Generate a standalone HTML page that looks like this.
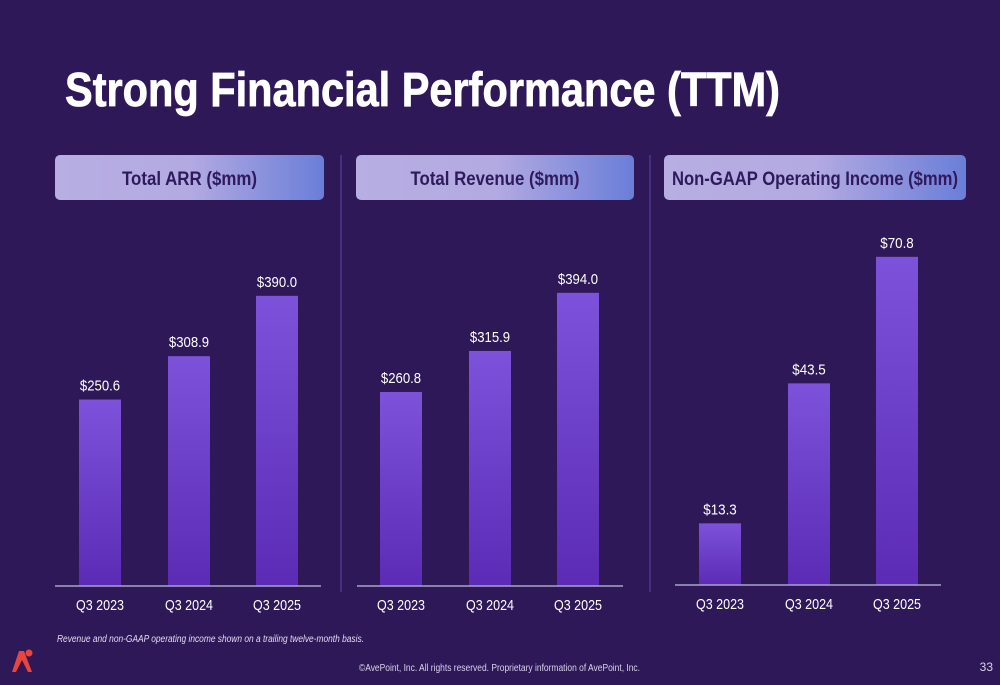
<!DOCTYPE html>
<html><head><meta charset="utf-8"><style>
html,body{margin:0;padding:0;background:#2e1858;}
svg{display:block;font-family:"Liberation Sans",Arial,sans-serif;}
</style></head><body>
<svg id="s" width="1000" height="685" viewBox="0 0 1000 685">
<defs>
<linearGradient id="pill" x1="0" x2="1" y1="0" y2="0">
<stop offset="0" stop-color="#b7aee3"/><stop offset="0.5" stop-color="#b3aae2"/><stop offset="1" stop-color="#6a7ed8"/>
</linearGradient>
<linearGradient id="bar" x1="0" x2="0" y1="0" y2="1">
<stop offset="0" stop-color="#7d52da"/><stop offset="1" stop-color="#5b2bb5"/>
</linearGradient>
</defs>
<rect width="1000" height="685" fill="#2e1858"/>
<text x="65" y="106" font-size="48" font-weight="bold" fill="#fff" stroke="#fff" stroke-width="0.8" textLength="715" lengthAdjust="spacingAndGlyphs">Strong Financial Performance (TTM)</text>
<line x1="341" y1="155" x2="341" y2="592" stroke="#4e3590" stroke-width="1.5"/>
<line x1="650" y1="155" x2="650" y2="592" stroke="#4e3590" stroke-width="1.5"/>
<g id="charts"></g>
<text x="57" y="642" font-size="10" font-style="italic" fill="#e0dcef" textLength="307" lengthAdjust="spacingAndGlyphs">Revenue and non-GAAP operating income shown on a trailing twelve-month basis.</text>
<text x="359" y="671" font-size="10" fill="#d8d3ea" textLength="281" lengthAdjust="spacingAndGlyphs">©AvePoint, Inc. All rights reserved. Proprietary information of AvePoint, Inc.</text>
<text x="993" y="671" font-size="12" fill="#d8d3ea" text-anchor="end">33</text>
<g>
<path d="M12 672 L19 651 L24 651 L32 672 L28 672 L22 660 L16 672 Z" fill="#e8453c"/>
<circle cx="29" cy="653" r="3.5" fill="#e8453c"/>
</g>
</svg>
<script>
const categories = ["Q3 2023","Q3 2024","Q3 2025"];
const titles = ["Total ARR ($mm)","Total Revenue ($mm)","Non-GAAP Operating Income ($mm)"];
const arrValues = [250.6, 308.9, 390.0];
const revenueValues = [260.8, 315.9, 394.0];
const incomeValues = [13.3, 43.5, 70.8];
const seriesList = [arrValues, revenueValues, incomeValues];

const NS="http://www.w3.org/2000/svg";
const g=document.getElementById('charts');
const panels=[
 {pill:[55,324],axis:[55,321],base:586,bars:[79,168,256],k:0.744,tw:135},
 {pill:[356,634],axis:[357,623],base:586,bars:[380,469,557],k:0.744,tw:169},
 {pill:[664,966],axis:[675,941],base:585,bars:[699,788,876],k:4.635,tw:286}
];
function mk(tag,attrs){const e=document.createElementNS(NS,tag);for(const k in attrs)e.setAttribute(k,attrs[k]);return e;}
panels.forEach((p,i)=>{
 const y=v=>p.base-v*p.k;
 const pill=mk('rect',{x:p.pill[0],y:155,width:p.pill[1]-p.pill[0],height:45,rx:5,fill:'url(#pill)'});
 
 
 g.appendChild(pill);
 const t=mk('text',{x:(p.pill[0]+p.pill[1])/2,y:185,'font-size':19,'font-weight':'bold',fill:'#2e1a5c','text-anchor':'middle',textLength:p.tw,lengthAdjust:'spacingAndGlyphs'});
 t.textContent=titles[i];
 
 
 g.appendChild(t);
 seriesList[i].forEach((v,j)=>{
  const x=p.bars[j];
  const b=mk('rect',{x:x,y:y(v),width:42,height:p.base-y(v),fill:'url(#bar)'});
  
  
  g.appendChild(b);
  const s='$'+v.toFixed(1);
  const l=mk('text',{x:x+21,y:y(v)-9,'font-size':15,fill:'#fff','text-anchor':'middle',textLength:s.length*6.7,lengthAdjust:'spacingAndGlyphs'});
  l.textContent=s;
  
  
  g.appendChild(l);
  const c=mk('text',{x:x+21,y:p.base+24,'font-size':15,fill:'#fff','text-anchor':'middle',textLength:48,lengthAdjust:'spacingAndGlyphs'});
  c.textContent=categories[j];
  
  
  g.appendChild(c);
 });
 const ax=mk('line',{x1:p.axis[0],x2:p.axis[1],y1:p.base,y2:p.base,stroke:'#a9a2c8','stroke-width':1.5});
 
 
 g.appendChild(ax);
});
</script>
</body></html>
